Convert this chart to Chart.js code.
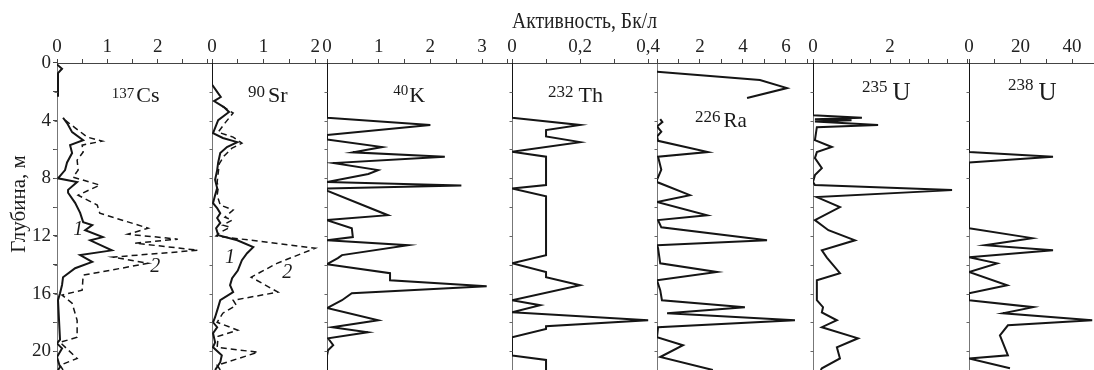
<!DOCTYPE html>
<html>
<head>
<meta charset="utf-8">
<script src="https://cdn.jsdelivr.net/npm/chart.js@4.4.1/dist/chart.umd.min.js"></script>
<style>
  html, body { margin: 0; padding: 0; background: #fff; }
  #wrap { width: 1094px; height: 370px; position: relative; }
</style>
</head>
<body>
<div id="wrap"><canvas id="profiles"></canvas></div>
<script>
// Depth profiles of activity (Bq/l), one panel per nuclide.
// Values are in each panel's own units, depths in metres.

// 137Cs: 1 - solid, 2 - dashed
const csDepth1 = [0.1, 0.4, 0.7, 2.35, null, 3.8, 4.17, 4.8, 5.35, 5.7, 6.25, 6.9, 7.43, 8.0, 8.26, 8.8, 9.0, 9.7, 10.4, 11.04, 11.25, 11.6, 12.08, 12.3, 13.0, 13.33, 13.8, 14.24, 14.86, 15.4, 15.97, 16.46, 19.2, 19.45, 19.8, 20.4, 21.1, 21.3];
const csVal1 = [0.0, 0.1, 0.02, 0.02, null, 0.12, 0.2, 0.3, 0.52, 0.26, 0.3, 0.2, 0.16, 0.02, 0.4, 0.22, 0.22, 0.36, 0.46, 0.52, 0.7, 0.56, 0.91, 0.66, 1.09, 0.46, 0.7, 0.36, 0.12, 0.1, 0.06, 0.02, 0.06, 0, 0.1, 0, 0.06, 0.02];
const csDepth2 = [3.96, 4.5, 5.14, 5.42, 5.7, 6.18, 6.74, 7.43, 7.92, 8.47, 9.17, 9.86, 10.42, 11.46, 11.88, 12.22, 12.5, 12.99, 13.47, 13.9, 14.72, 15.76, 16.1, 16.67, 17.85, 19.03, 19.38, 20.5, 20.97, 21.3];
const csVal2 = [0.16, 0.36, 0.6, 0.9, 0.5, 0.52, 0.4, 0.42, 0.32, 0.85, 0.42, 0.8, 0.85, 1.81, 1.41, 2.4, 1.55, 2.8, 1.11, 1.81, 0.52, 0.5, 0.1, 0.3, 0.4, 0.4, 0.06, 0.4, 0.06, 0.12];

// 90Sr: 1 - solid, 2 - dashed
const srDepth1 = [0, 1.5, 2.0, 2.36, 2.64, 3.06, 3.4, 3.96, 4.86, 5.2, 5.49, 5.83, 6.25, 6.9, 7.43, 8.1, 8.68, 9.17, 9.72, 10.07, 10.42, 10.76, 11.1, 11.46, 11.94, 12.3, 12.78, 13.2, 13.68, 14.4, 14.93, 15.42, 15.9, 16.46, 16.94, 17.64, 17.99, 18.33, 18.75, 19.38, 19.72, 20.28, 20.76, 21.3];
const srVal1 = [0, 0, 0.1, 0.17, 0.04, 0.23, 0.33, 0.12, 0.02, 0.21, 0.49, 0.29, 0.16, 0.12, 0.1, 0.06, 0.1, 0.06, 0.02, 0.1, 0.16, 0.1, 0.16, 0.08, 0.12, 0.49, 0.8, 0.68, 0.58, 0.5, 0.39, 0.35, 0.41, 0.16, 0.12, 0.06, 0.02, 0.1, 0.02, 0.06, 0.02, 0.19, 0.16, 0.06];
const srDepth2 = [3.0, 3.47, 4.17, 4.8, 5.14, 5.56, 5.9, 6.46, 7.0, 7.64, 8.26, 8.68, 9.17, 9.86, 10.2, 10.7, 10.9, 11.25, 11.4, 11.74, 12.0, 12.85, 13.9, 14.86, 15.9, 16.46, 16.8, 17.36, 17.99, 18.54, 18.96, 19.72, 20.07, 20.97, 21.3];
const srVal2 = [0.2, 0.41, 0.25, 0.12, 0.41, 0.58, 0.39, 0.23, 0.14, 0.12, 0.1, 0.12, 0.1, 0.16, 0.41, 0.25, 0.39, 0.21, 0.35, 0.16, 0.08, 2.0, 1.26, 0.76, 1.28, 0.41, 0.47, 0.21, 0.1, 0.5, 0.12, 0.1, 0.89, 0.1, 0.16];

// 40K
const kDepth = [0, 3.8, 4.3, 5.0, 5.3, 5.83, 6.2, 6.5, 6.94, 7.43, 7.7, 8.26, 8.5, 8.7, 8.85, 10.56, 10.9, 11.46, 12.08, 12.3, 12.64, 13.33, 13.54, 13.96, 14.58, 15.07, 15.49, 15.97, 16.46, 17.0, 17.85, 18.33, 18.68, 19.1, 19.58, 19.93, 20.3, 21.3];
const kVal = [0, 0, 2.0, 0, 0, 1.07, 0.5, 2.28, 0.12, 0.99, 0.8, 0, 2.6, 0, 0, 1.18, 0, 0.48, 0.5, 0, 1.57, 0.29, 0.21, 0, 1.22, 1.22, 3.09, 0.48, 0.29, 0, 0.99, 0.1, 0.79, 0.02, 0.12, 0.02, 0, 0];

// 232Th
const thDepth = [0, 3.8, 4.3, 4.65, 5.1, 5.49, 6.15, 6.5, 8.47, 8.7, 9.24, 13.33, 13.9, 14.5, 14.86, 15.42, 16.46, 16.8, 17.3, 17.85, 18.26, 18.45, 19.03, 20.3, 20.6, 21.3];
const thVal = [0, 0, 0.2, 0.1, 0.1, 0.2, 0, 0.1, 0.1, 0, 0.1, 0.1, 0, 0.1, 0.1, 0.2, 0, 0.083, 0, 0.4, 0.1, 0.1, 0, 0, 0.1, 0.1];

// 226Ra
const raDepth = [0.6, 1.18, 1.74, 2.43, null, 3.9, 4.1, 4.4, 4.76, 5.1, 5.4, 6.18, 6.5, 7.4, 8.1, 8.26, 9.17, 9.65, 10.56, 10.9, 11.4, 12.3, 12.64, 12.85, 13.9, 14.5, 15.07, 15.76, 16.46, 16.94, 17.36, 17.85, 18.33, 19.03, 19.58, 20.4, 21.3];
const raVal = [0, 4.79, 6.05, 4.19, null, 0.15, 0.25, 0, 0.2, 0, 0.05, 2.37, 0.05, 0.2, 0, 0, 1.53, 0, 2.33, 0.05, 0.2, 5.12, 0, 0.05, 0.15, 2.79, 0, 0.15, 0.23, 4.09, 0.47, 6.42, 0.05, 0, 1.21, 0.15, 2.6];

// 235U
const u5Depth = [0, 3.63, 3.8, 3.9, 3.98, 4.06, 4.3, 4.45, 5.35, 5.83, 6.18, 6.6, 7.3, 7.78, 8.26, 8.47, 8.82, 9.3, 10.0, 10.9, 11.6, 12.3, 12.99, 13.5, 14.58, 15.07, 16.46, 16.94, 17.3, 17.85, 18.33, 19.1, 19.72, 20.5, 21.18, 21.3];
const u5Val = [0, 0, 1.27, 0.05, 1.0, 0.05, 1.69, 0.1, 0.05, 0.49, 0.1, 0.05, 0.23, 0.05, 0, 0.05, 3.61, 0.1, 0.7, 0.05, 0.4, 1.09, 0.23, 0.36, 0.7, 0.1, 0.1, 0.26, 0.23, 0.62, 0.23, 1.17, 0.62, 0.7, 0.23, 0.2];

// 238U
const u8Depth = [0, 6.18, 6.5, 6.9, 11.46, 12.15, 12.64, 13.0, 13.47, 13.9, 14.5, 15.42, 15.97, 16.46, 16.94, 17.36, 17.85, 18.2, 18.9, 20.28, 20.5, 21.18];
const u8Val = [0, 0, 32.6, 0, 0, 24.5, 6.2, 32.6, 0, 10.9, 0, 14.8, 0, 0, 24.9, 13.2, 47.8, 15.1, 12, 15.1, 0, 15.9];

// tick values and their labels
const csTicks = [0, 0.5, 1, 1.5, 2, 2.5, 3];
const csTickLabels = ['0', '', '1', '', '2', '', ''];
const srTicks = [0, 0.5, 1, 1.5, 2];
const srTickLabels = ['0', '', '1', '', '2'];
const kTicks = [0, 0.5, 1, 1.5, 2, 2.5, 3, 3.5];
const kTickLabels = ['0', '', '1', '', '2', '', '3', ''];
const thTicks = [0, 0.1, 0.2, 0.3, 0.4];
const thTickLabels = ['0', '', '0,2', '', '0,4'];
const raTicks = [0, 1, 2, 3, 4, 5, 6, 7];
const raTickLabels = ['', '', '2', '', '4', '', '6', ''];
const u5Ticks = [0, 0.5, 1, 1.5, 2, 2.5, 3, 3.5, 4];
const u5TickLabels = ['0', '', '', '', '2', '', '', '', ''];
const u8Ticks = [0, 10, 20, 30, 40];
const u8TickLabels = ['0', '', '20', '', '40'];
const depthTicks = [0, 2, 4, 6, 8, 10, 12, 14, 16, 18, 20];
const depthLabels = ['0', '', '4', '', '8', '', '12', '', '16', '', '20'];

const SERIF = "'Liberation Serif', 'DejaVu Serif', serif";
const INK = '#151515';
const TOP_AXIS_HEIGHT = 55;

function panelAxis(order, weight, max, ticks, labels) {
  return {
    type: 'linear',
    axis: 'x',
    position: 'top',
    stack: 'panels',
    stackWeight: weight,
    weight: order,
    min: 0,
    max: max,
    afterBuildTicks: (s) => { s.ticks = ticks.map((v) => ({ value: v })); },
    // every panel axis gets the same height so the stack lines up
    afterFit: (s) => {
      s.paddingLeft = 0;
      s.paddingRight = 0;
      s.height = TOP_AXIS_HEIGHT;
    },
    ticks: {
      autoSkip: false,
      maxRotation: 0,
      padding: 1,
      color: '#222',
      font: { family: SERIF, size: 19 },
      callback: (v, i) => labels[i],
    },
    grid: {
      drawOnChartArea: true,
      tickLength: 4,
      tickColor: '#444',
      lineWidth: 1,
      // only the zero line of each panel is drawn down the plot
      color: (c) => (c.tick && c.tick.value === 0 ? '#777' : 'rgba(0,0,0,0)'),
    },
    border: { display: true, color: '#444', width: 1 },
  };
}

function series(axisId, vals, depths, dashed) {
  return {
    xAxisID: axisId,
    yAxisID: 'y',
    data: vals.map((v, i) => ({ x: v, y: depths[i] })),
    showLine: true,
    spanGaps: false,
    borderColor: INK,
    borderWidth: dashed ? 1.5 : 2,
    borderDash: dashed ? [6, 4] : [],
    borderJoinStyle: 'miter',
    pointRadius: 0,
    tension: 0,
  };
}

const thAxis = panelAxis(4, 145, 0.426, thTicks, thTickLabels);
thAxis.title = {
  display: true,
  text: 'Активность, Бк/л',
  color: '#222',
  font: { family: SERIF, size: 23 },
  padding: { top: 0, bottom: 0 },
};

// nuclide names (mass number raised) and curve numbers
const panelNames = [
  { axis: 'cs', mass: '137', name: 'Cs', at: [1.09, 2.71], sup: 15, main: 22, rise: 4, gap: 2 },
  { axis: 'sr', mass: '90', name: 'Sr', at: [0.7, 2.71], sup: 17, main: 22, rise: 5, gap: 3 },
  { axis: 'k', mass: '40', name: 'K', at: [1.28, 2.71], sup: 15, main: 22, rise: 7, gap: 1 },
  { axis: 'th', mass: '232', name: 'Th', at: [0.106, 2.71], sup: 17, main: 22, rise: 5, gap: 5 },
  { axis: 'ra', mass: '226', name: 'Ra', at: [1.77, 4.44], sup: 17, main: 21, rise: 5, gap: 3 },
  { axis: 'u5', mass: '235', name: 'U', at: [1.27, 2.57], sup: 17, main: 25, rise: 8, gap: 5 },
  { axis: 'u8', mass: '238', name: 'U', at: [15.1, 2.57], sup: 17, main: 25, rise: 10, gap: 5 },
];
const curveNumbers = [
  { axis: 'cs', text: '1', at: [0.42, 11.59] },
  { axis: 'cs', text: '2', at: [1.95, 14.16] },
  { axis: 'sr', text: '1', at: [0.35, 13.53] },
  { axis: 'sr', text: '2', at: [1.46, 14.57] },
];

const annotations = {
  id: 'annotations',
  afterDatasetsDraw(chart) {
    const ctx = chart.ctx;
    const ys = chart.scales.y;
    ctx.save();
    ctx.fillStyle = '#1a1a1a';

    // small depth ticks on every panel's zero line
    ctx.strokeStyle = '#666';
    ctx.lineWidth = 1;
    ['cs', 'sr', 'k', 'th', 'ra', 'u5', 'u8'].forEach((id) => {
      const x0 = Math.round(chart.scales[id].getPixelForValue(0)) + 0.5;
      depthTicks.slice(1).forEach((d) => {
        const py = Math.round(ys.getPixelForValue(d)) + 0.5;
        ctx.beginPath();
        ctx.moveTo(x0 - 3, py);
        ctx.lineTo(x0, py);
        ctx.stroke();
      });
    });

    ctx.textAlign = 'left';
    ctx.textBaseline = 'alphabetic';
    panelNames.forEach((p) => {
      const xs = chart.scales[p.axis];
      const x = xs.getPixelForValue(p.at[0]);
      const y = ys.getPixelForValue(p.at[1]);
      ctx.font = p.sup + 'px ' + SERIF;
      ctx.fillText(p.mass, x, y - p.rise);
      const w = ctx.measureText(p.mass).width;
      ctx.font = p.main + 'px ' + SERIF;
      ctx.fillText(p.name, x + w + p.gap, y);
    });

    ctx.textAlign = 'center';
    ctx.textBaseline = 'middle';
    ctx.font = 'italic 20px ' + SERIF;
    curveNumbers.forEach((c) => {
      const x = chart.scales[c.axis].getPixelForValue(c.at[0]);
      ctx.fillText(c.text, x, ys.getPixelForValue(c.at[1]));
    });

    // depth axis title
    ctx.translate(19, ys.getPixelForValue(9.78));
    ctx.rotate(-Math.PI / 2);
    ctx.font = '21px ' + SERIF;
    ctx.fillText('Глубина, м', 0, 0);
    ctx.restore();
  },
};

new Chart(document.getElementById('profiles'), {
  type: 'scatter',
  data: {
    datasets: [
      series('cs', csVal1, csDepth1, false),
      series('cs', csVal2, csDepth2, true),
      series('sr', srVal1, srDepth1, false),
      series('sr', srVal2, srDepth2, true),
      series('k', kVal, kDepth, false),
      series('th', thVal, thDepth, false),
      series('ra', raVal, raDepth, false),
      series('u5', u5Val, u5Depth, false),
      series('u8', u8Val, u8Depth, false),
    ],
  },
  options: {
    responsive: true,
    maintainAspectRatio: false,
    animation: false,
    layout: { padding: { top: 8, left: 0, right: 0, bottom: 0 } },
    plugins: { legend: { display: false }, tooltip: { enabled: false } },
    scales: {
      cs: panelAxis(7, 155, 3.08, csTicks, csTickLabels),
      sr: panelAxis(6, 115, 2.23, srTicks, srTickLabels),
      k: panelAxis(5, 185, 3.58, kTicks, kTickLabels),
      th: thAxis,
      ra: panelAxis(3, 156, 7.26, raTicks, raTickLabels),
      u5: panelAxis(2, 156, 4.05, u5Ticks, u5TickLabels),
      u8: panelAxis(1, 125, 48.5, u8Ticks, u8TickLabels),
      y: {
        type: 'linear',
        position: 'left',
        reverse: true,
        min: 0,
        max: 21.3,
        afterBuildTicks: (s) => { s.ticks = depthTicks.map((v) => ({ value: v })); },
        // the plot runs down to the bottom edge, so no room is kept for end labels
        afterFit: (s) => {
          s.width = 57;
          s.paddingTop = 0;
          s.paddingBottom = 0;
        },
        ticks: {
          autoSkip: false,
          padding: 2,
          color: '#222',
          font: { family: SERIF, size: 19 },
          callback: (v, i) => depthLabels[i],
        },
        grid: { drawOnChartArea: false, tickLength: 4, color: '#444' },
        border: { display: false },
      },
    },
  },
  plugins: [annotations],
});
</script>
</body>
</html>
